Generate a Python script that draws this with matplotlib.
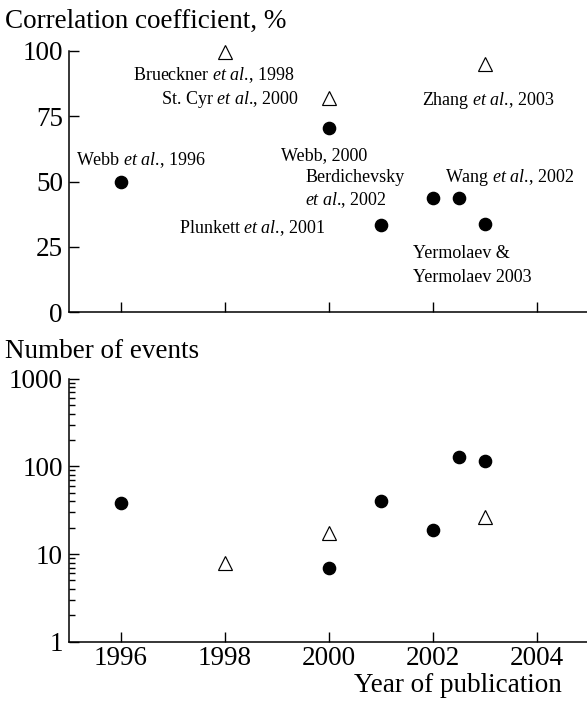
import matplotlib
matplotlib.use("Agg")
import matplotlib.pyplot as plt
from matplotlib.ticker import FixedLocator, NullFormatter, LogLocator

plt.rcParams['font.family'] = ['Liberation Serif', 'DejaVu Serif']
plt.rcParams['mathtext.fontset'] = 'custom'
plt.rcParams['mathtext.rm'] = 'Liberation Serif'
plt.rcParams['mathtext.it'] = 'Liberation Serif:italic'

# ---- data ----
corr_circle_years = [1996, 2000, 2001, 2002, 2002.5, 2003]
corr_circle_vals = [50, 70.4, 33.5, 43.7, 43.7, 33.7]
corr_tri_years = [1998, 2000, 2003]
corr_tri_vals = [99.7, 82, 95]

events_circle_years = [1996, 2000, 2001, 2002, 2002.5, 2003]
events_circle_vals = [38, 6.9, 40, 18.8, 128, 116]
events_tri_years = [1998, 2000, 2003]
events_tri_vals = [7.8, 17.5, 26.3]

year_ticks = [1996, 1998, 2000, 2002, 2004]
corr_ticks = [0, 25, 50, 75, 100]
events_ticks = [1, 10, 100, 1000]
events_tick_labels = ['1', '10', '100', '1000']

# annotation labels: (text, x, y, ha)
ann_labels = [
    ("Webb $\\mathit{et}$ $\\mathit{al}$., 1996", 1995.14, 56.4, 'left'),
    ("Brueckner $\\mathit{et}$ $\\mathit{al}$., 1998", 1999.34, 88.9, 'right'),
    ("St. Cyr $\\mathit{et}$ $\\mathit{al}$., 2000", 1999.42, 79.7, 'right'),
    ("Webb, 2000", 1999.92, 58.3, 'center'),
    ("Zhang $\\mathit{et}$ $\\mathit{al}$., 2003", 2003.07, 79.4, 'center'),
    ("Berdichevsky", 1999.55, 50.0, 'left'),
    ("$\\mathit{et}$ $\\mathit{al}$., 2002", 1999.55, 41.1, 'left'),
    ("Plunkett $\\mathit{et}$ $\\mathit{al}$., 2001", 1999.94, 30.5, 'right'),
    ("Wang $\\mathit{et}$ $\\mathit{al}$., 2002", 2002.24, 50.0, 'left'),
    ("Yermolaev &", 2001.61, 20.7, 'left'),
    ("Yermolaev 2003", 2001.61, 11.7, 'left'),
]

W, H = 587, 701
fig = plt.figure(figsize=(W / 100, H / 100), dpi=100)

left = 68.5 / W
right = 1.0
ax1 = fig.add_axes([left, 1 - 312.3 / H, right - left, (312.3 - 51) / H])
ax2 = fig.add_axes([left, 1 - 641.7 / H, right - left, (641.7 - 378.7) / H])

xlim = (1995.0, 1995.0 + (W - 68.5) / 52.05)

circ_kw = dict(marker='o', linestyle='none', markersize=8.8, color='black', clip_on=False)
tri_kw = dict(marker='^', linestyle='none', markersize=10, markerfacecolor='white',
              markeredgecolor='black', markeredgewidth=0.85, clip_on=False)

for ax in (ax1, ax2):
    ax.spines['top'].set_visible(False)
    ax.spines['right'].set_visible(False)
    for s in ('left', 'bottom'):
        ax.spines[s].set_linewidth(1.1)
    ax.set_xlim(*xlim)
    ax.set_xticks(year_ticks)
    ax.tick_params(axis='both', which='major', direction='in', length=7.5, width=1.0,
                   labelsize=19.5, pad=4)
    ax.tick_params(axis='both', which='minor', direction='in', length=4.3, width=1.0)
    ax.patch.set_alpha(0)

# top panel
ax1.plot(corr_circle_years, corr_circle_vals, **circ_kw)
ax1.plot(corr_tri_years, corr_tri_vals, **tri_kw)
ax1.set_ylim(0, 100)
ax1.set_yticks(corr_ticks)
ax1.set_xticklabels([])
for txt, x, y, ha in ann_labels:
    ax1.text(x, y, txt, ha=ha, va='baseline', fontsize=13)

# bottom panel
ax2.plot(events_circle_years, events_circle_vals, **circ_kw)
ax2.plot(events_tri_years, events_tri_vals, **tri_kw)
ax2.set_yscale('log')
ax2.set_ylim(1, 1000)
ax2.yaxis.set_major_locator(FixedLocator(events_ticks))
ax2.set_yticklabels(events_tick_labels)
ax2.yaxis.set_minor_locator(LogLocator(base=10, subs=range(2, 10)))
ax2.yaxis.set_minor_formatter(NullFormatter())
ax2.set_xticklabels([str(y) for y in year_ticks])
ax2.tick_params(axis='x', pad=3)

fig.text(5 / W, 1 - 28 / H, "Correlation coefficient, %", fontsize=19.5, ha='left', va='baseline')
fig.text(5 / W, 1 - 358 / H, "Number of events", fontsize=19.5, ha='left', va='baseline')
fig.text(561.7 / W, 1 - 691.7 / H, "Year of publication", fontsize=19.5, ha='right', va='baseline')

fig.savefig("out.png", dpi=100)
